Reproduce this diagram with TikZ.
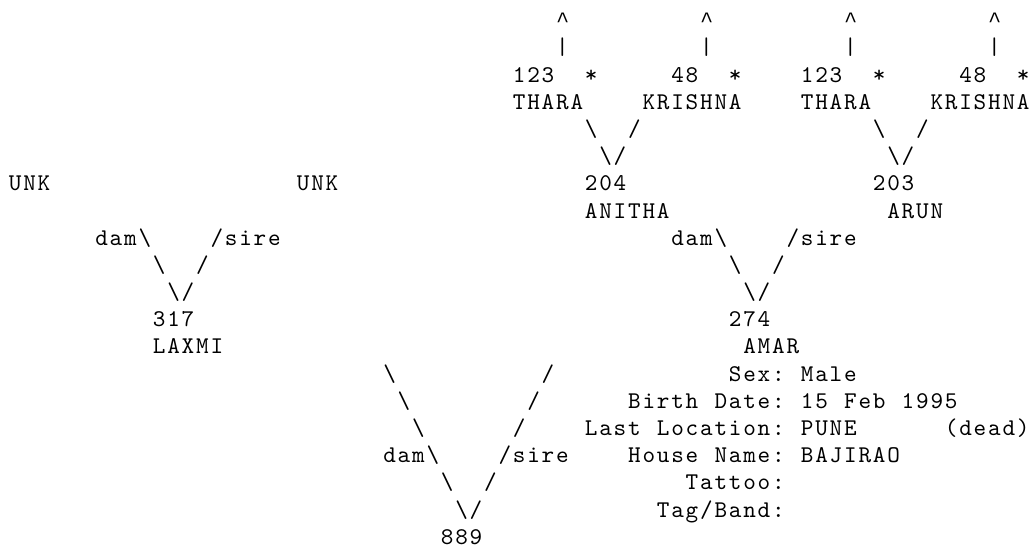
\documentclass[tikz,border=0pt]{standalone}
\usepackage{fontspec}
\newfontfamily\gridtt{lmmono10-regular.otf}[LetterSpace=7.5]
\newfontfamily\caretfont{Liberation Mono}
\newcommand\asc[3]{\node[glyphrun] (r#2c#1) at ({8+14.4*#1+0.9}, {-(27.7+(#2-1)*27.19)}) {#3};}
\newcommand\caretglyph{{\caretfont\fontsize{22pt}{26pt}\selectfont\textasciicircum}}
\begin{document}
\begin{tikzpicture}[x=1pt,y=1pt,
  glyphrun/.style={anchor=base west, inner sep=0pt, outer sep=0pt, text=black,
    font=\gridtt\fontsize{24pt}{27pt}\selectfont}]
\fill[white] (0,0) rectangle (1036,-548);
\useasboundingbox (0,0) rectangle (1036,-548);
% line 1-2
\asc{38}{1}{\caretglyph}\asc{48}{1}{\caretglyph}\asc{58}{1}{\caretglyph}\asc{68}{1}{\caretglyph}
\asc{38}{2}{\textbar}\asc{48}{2}{\textbar}\asc{58}{2}{\textbar}\asc{68}{2}{\textbar}
% line 3
\asc{35}{3}{123}\asc{40}{3}{*}\asc{46}{3}{48}\asc{50}{3}{*}
\asc{55}{3}{123}\asc{60}{3}{*}\asc{66}{3}{48}\asc{70}{3}{*}
% line 4
\asc{35}{4}{THARA}\asc{44}{4}{KRISHNA}\asc{55}{4}{THARA}\asc{64}{4}{KRISHNA}
% line 5-6
\asc{40}{5}{\textbackslash}\asc{43}{5}{/}\asc{60}{5}{\textbackslash}\asc{63}{5}{/}
\asc{41}{6}{\textbackslash/}\asc{61}{6}{\textbackslash/}
% line 7-8
\asc{0}{7}{UNK}\asc{20}{7}{UNK}\asc{40}{7}{204}\asc{60}{7}{203}
\asc{40}{8}{ANITHA}\asc{61}{8}{ARUN}
% line 9-13
\asc{6}{9}{dam\textbackslash}\asc{14}{9}{/sire}\asc{46}{9}{dam\textbackslash}\asc{54}{9}{/sire}
\asc{10}{10}{\textbackslash}\asc{13}{10}{/}\asc{50}{10}{\textbackslash}\asc{53}{10}{/}
\asc{11}{11}{\textbackslash/}\asc{51}{11}{\textbackslash/}
\asc{10}{12}{317}\asc{50}{12}{274}
\asc{10}{13}{LAXMI}\asc{51}{13}{AMAR}
% line 14-20
\asc{26}{14}{\textbackslash}\asc{37}{14}{/}\asc{50}{14}{Sex:}\asc{55}{14}{Male}
\asc{27}{15}{\textbackslash}\asc{36}{15}{/}\asc{43}{15}{Birth}\asc{49}{15}{Date:}\asc{55}{15}{15}\asc{58}{15}{Feb}\asc{62}{15}{1995}
\asc{28}{16}{\textbackslash}\asc{35}{16}{/}\asc{40}{16}{Last}\asc{45}{16}{Location:}\asc{55}{16}{PUNE}\asc{65}{16}{(dead)}
\asc{26}{17}{dam\textbackslash}\asc{34}{17}{/sire}\asc{43}{17}{House}\asc{49}{17}{Name:}\asc{55}{17}{BAJIRAO}
\asc{30}{18}{\textbackslash}\asc{33}{18}{/}\asc{47}{18}{Tattoo:}
\asc{31}{19}{\textbackslash/}\asc{45}{19}{Tag/Band:}
\asc{30}{20}{889}
\end{tikzpicture}
\end{document}
